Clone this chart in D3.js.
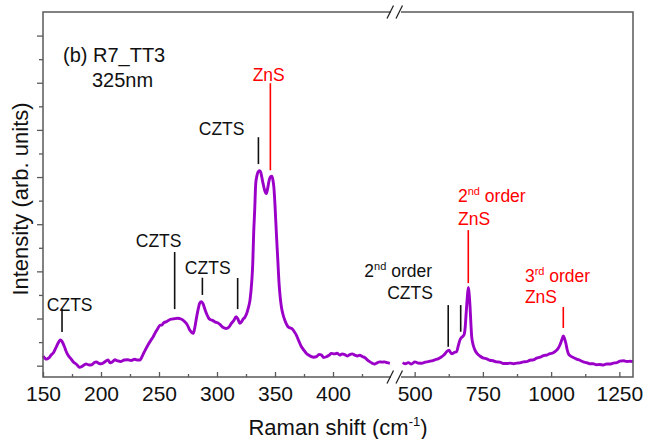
<!DOCTYPE html>
<html>
<head>
<meta charset="utf-8">
<script src="https://cdn.jsdelivr.net/npm/d3@7"></script>
<style>
  html, body { margin: 0; padding: 0; background: #fff; }
  svg { display: block; font-family: "Liberation Sans", Arial, sans-serif; }
</style>
</head>
<body>
<svg id="chart" width="645" height="439"></svg>
<script>
// ---------- data ----------
// low-wavenumber segment (cm^-1) and intensity (arb. units)
const shift1 = [150,153,155,157,159,161.5,163.5,165,166.5,168.5,170,171.5,174,176,179,181.5,184,187,190,192,194,196,198,200,203,206,208,210,212,214.5,217,220,223,226,229,231,233.5,236,238,240.5,243,245,247,249,251,252.5,254,256.5,258.5,260.5,263,266,269,272,274.5,276.5,278,279.5,281,282.5,284,285,286.5,288,289.5,291,293,294.5,296.5,298.5,300.5,302.5,305,308,310,312.5,314.5,316.5,318,319.6,321,322.5,324,325.5,327,328.5,330,330.8,331.6,332.5,333.4,334.4,335.4,336.6,337.6,338.6,339.7,341,342.6,343.8,345,346.2,347.2,348.2,349,350,351.2,352.4,353.5,354.5,355.5,357,358.4,360,361.2,363,364.5,366.5,368.4,370.5,372.8,375,377.1,379,381.4,383.5,385.7,388,390,392,394.3,396.5,398.6,401,403.5,405.8,408,410.5,412.5,414.5,416.5,418.7,421,423,425.5,427.3,429.5,431.6,434,435.9,438,440.2,442.5,444.5,446.5,449];
const int1 = [0.41,0.28,0.33,0.45,0.55,0.8,1.0,1.09,1.02,0.8,0.6,0.45,0.3,0.17,0.05,-0.07,-0.02,0.07,0.03,0.04,0.12,0.16,0.1,0.08,0.15,0.24,0.12,0.17,0.25,0.2,0.18,0.24,0.25,0.22,0.27,0.24,0.24,0.45,0.65,0.88,1.08,1.23,1.42,1.58,1.72,1.72,1.82,1.87,1.93,1.97,1.99,2.01,1.98,1.87,1.72,1.51,1.42,1.37,1.65,2.08,2.45,2.64,2.71,2.62,2.4,2.2,2.0,1.95,1.91,1.85,1.82,1.75,1.63,1.58,1.62,1.8,1.92,2.08,1.98,1.8,1.85,1.97,2.05,2.2,2.45,2.8,3.6,4.3,5.6,6.6,7.73,8.05,8.22,8.27,8.22,8.0,7.73,7.45,7.3,7.55,7.87,8.02,8.04,7.88,7.58,6.8,5.6,4.5,3.49,2.9,2.5,2.15,1.94,1.75,1.65,1.6,1.58,1.45,1.3,1.05,0.8,0.65,0.52,0.45,0.38,0.36,0.38,0.48,0.45,0.35,0.38,0.44,0.52,0.5,0.53,0.45,0.5,0.46,0.41,0.47,0.5,0.45,0.41,0.44,0.38,0.35,0.25,0.17,0.1,0.07,0.12,0.16,0.15,0.16,0.13,0.1];

// high-wavenumber segment
const shift2 = [456,465,477,488,501,513,526,538,550,562,574,586,599,608,617,626,631,636,645,654,660,666,672,678,682,685,688,691,694,697,700,703,706,709,714,721,730,739,750,764,775,787,800,812,825,837,850,862,874,886,898,910,922,935,947,960,972,984,996,1008,1018,1026,1033,1039,1045,1049,1054,1058,1063,1070,1081,1093,1105,1118,1130,1142,1154,1166,1178,1191,1203,1215,1228,1240,1252,1265,1278,1290,1300];
const int2 = [0.13,0.08,0.13,0.07,0.16,0.11,0.1,0.15,0.17,0.2,0.25,0.29,0.38,0.46,0.59,0.66,0.57,0.5,0.56,0.6,0.85,1.09,1.2,1.26,1.35,1.6,2.1,2.6,3.05,3.32,3.0,2.5,1.8,1.23,0.9,0.66,0.5,0.41,0.33,0.29,0.23,0.21,0.16,0.15,0.09,0.09,0.11,0.08,0.11,0.12,0.16,0.17,0.23,0.25,0.32,0.36,0.43,0.45,0.51,0.55,0.63,0.74,0.9,1.09,1.26,1.15,0.95,0.72,0.52,0.42,0.35,0.28,0.23,0.16,0.13,0.08,0.08,0.04,0.05,0.03,0.07,0.07,0.11,0.13,0.19,0.21,0.18,0.19,0.17];

const ticks1 = [150,200,250,300,350,400];
const minor1 = [175,225,275,325,375,425];
const ticks2 = [500,750,1000,1250];
const minor2 = [625,875,1125];
const yMajor = [0,2,4,6,8,10,12,14];
const yMinor = [1,3,5,7,9,11,13];

// assignment markers
const markShift  = [166.4, 263.5, 287.4, 317.8, 335.7, 346, 623, 668.7, 696.5, 1044.6];
const markSeg    = [1, 1, 1, 1, 1, 1, 2, 2, 2, 2];
const markTop    = [2.4, 4.82, 3.73, 3.72, 9.69, 11.98, 2.57, 2.57, 5.75, 2.49];
const markBottom = [1.43, 2.4, 3.0, 2.4, 8.55, 8.29, 0.8, 1.44, 3.5, 1.6];
const markPhase  = ["CZTS","CZTS","CZTS","CZTS","CZTS","ZnS","CZTS","CZTS","ZnS","ZnS"];

// ---------- layout ----------
const svg = d3.select("#chart");
const L = 43, R = 633, T = 12, B = 377, G1 = 391, G2 = 401;
const x1 = d3.scaleLinear().domain([150, 450]).range([L, G1]);
const x2 = d3.scaleLinear().domain([450, 1300]).range([G2, R]);
const y  = d3.scaleLinear().domain([-0.48, 15]).range([B, T]);

const axisColor = "#5a5a5a";
const purple = "#9b00c8";
const red = "#ff0000";

// curves
const line1 = d3.line().x(d => x1(d[0])).y(d => y(d[1])).curve(d3.curveMonotoneX);
const line2 = d3.line().x(d => x2(d[0])).y(d => y(d[1])).curve(d3.curveMonotoneX);
svg.append("path").datum(d3.zip(shift1, int1)).attr("d", line1)
  .attr("fill", "none").attr("stroke", purple).attr("stroke-width", 2.9).attr("stroke-linejoin", "round");
svg.append("path").datum(d3.zip(shift2, int2)).attr("d", line2)
  .attr("fill", "none").attr("stroke", purple).attr("stroke-width", 2.9).attr("stroke-linejoin", "round");

// x axes
function styleAxis(g) {
  g.select(".domain").remove();
  g.selectAll("line").attr("stroke", axisColor).attr("stroke-width", 1.3);
  g.selectAll("text").attr("fill", "#111").attr("font-size", 21)
    .attr("font-family", "Liberation Sans, Arial, sans-serif");
}
svg.append("g").attr("transform", `translate(0,${B})`)
  .call(d3.axisBottom(x1).tickValues(ticks1).tickSize(-5).tickPadding(9.5).tickFormat(d3.format("d"))).call(styleAxis);
svg.append("g").attr("transform", `translate(0,${B})`)
  .call(d3.axisBottom(x1).tickValues(minor1).tickSize(-3).tickFormat("")).call(styleAxis);
svg.append("g").attr("transform", `translate(0,${B})`)
  .call(d3.axisBottom(x2).tickValues(ticks2).tickSize(-5).tickPadding(9.5).tickFormat(d3.format("d"))).call(styleAxis);
svg.append("g").attr("transform", `translate(0,${B})`)
  .call(d3.axisBottom(x2).tickValues(minor2).tickSize(-3).tickFormat("")).call(styleAxis);

// y axis ticks (outward, no labels)
svg.append("g").attr("transform", `translate(${L},0)`)
  .call(d3.axisLeft(y).tickValues(yMajor).tickSize(6).tickFormat("")).call(styleAxis);
svg.append("g").attr("transform", `translate(${L},0)`)
  .call(d3.axisLeft(y).tickValues(yMinor).tickSize(4).tickFormat("")).call(styleAxis);

// frame with broken x axis
const frame = svg.append("g").attr("stroke", axisColor).attr("stroke-width", 1.5).attr("fill", "none");
frame.append("path").attr("d", `M${G1},${T}H${L}V${B}H${G1}`);
frame.append("path").attr("d", `M${G2},${T}H${R}V${B}H${G2}`);
// break marks
const brk = svg.append("g").attr("stroke", "#222").attr("stroke-width", 1.2);
[T, B].forEach(yy => {
  brk.append("line").attr("x1", 387).attr("y1", yy + 6.5).attr("x2", 393.5).attr("y2", yy - 6.5);
  brk.append("line").attr("x1", 396).attr("y1", yy + 6.5).attr("x2", 402.5).attr("y2", yy - 6.5);
});

// marker lines
markShift.forEach((w, i) => {
  const xs = markSeg[i] === 1 ? x1 : x2;
  svg.append("line")
    .attr("x1", xs(w)).attr("x2", xs(w))
    .attr("y1", y(markTop[i])).attr("y2", y(markBottom[i]))
    .attr("stroke", markPhase[i] === "ZnS" ? red : "#111")
    .attr("stroke-width", 1.6);
});

// annotation text
const ann = svg.append("g").attr("font-size", 17.5);
function label(x, yb, txt, color, anchor) {
  return ann.append("text").attr("x", x).attr("y", yb).attr("fill", color)
    .attr("text-anchor", anchor || "middle").text(txt);
}
function orderLabel(x, yb, num, sup, color, anchor) {
  const t = ann.append("text").attr("x", x).attr("y", yb).attr("fill", color)
    .attr("text-anchor", anchor || "start");
  t.append("tspan").text(num);
  t.append("tspan").attr("font-size", 11).attr("dy", -7).text(sup);
  t.append("tspan").attr("dy", 7).text(" order");
  return t;
}
label(x1(173), 310.7, "CZTS", "#111");
label(x1(249.7), 246.7, "CZTS", "#111");
label(x1(292), 274, "CZTS", "#111");
label(x1(304), 135, "CZTS", "#111");
label(x1(344.6), 80.7, "ZnS", red);
orderLabel(x2(563.6), 277, "2", "nd", "#111", "end");
label(x2(567), 299, "CZTS", "#111", "end");
orderLabel(x2(658.8), 201.7, "2", "nd", red, "start");
label(x2(658.8), 225, "ZnS", red, "start");
orderLabel(x2(904), 281.7, "3", "rd", red, "start");
label(x2(904), 303, "ZnS", red, "start");

// sample label
svg.append("text").attr("x", 63).attr("y", 62).attr("font-size", 20).attr("fill", "#111").text("(b) R7_TT3");
svg.append("text").attr("x", 92).attr("y", 87).attr("font-size", 20).attr("fill", "#111").text("325nm");

// axis titles
const xt = svg.append("text").attr("x", (L + R) / 2).attr("y", 435).attr("text-anchor", "middle")
  .attr("font-size", 22).attr("fill", "#111");
xt.append("tspan").text("Raman shift (cm");
xt.append("tspan").attr("font-size", 13).attr("dy", -9).text("-1");
xt.append("tspan").attr("dy", 9).text(")");

svg.append("text").attr("transform", "rotate(-90)").attr("x", -199).attr("y", 28)
  .attr("text-anchor", "middle").attr("font-size", 22).attr("fill", "#111")
  .text("Intensity (arb. units)");
</script>
</body>
</html>
